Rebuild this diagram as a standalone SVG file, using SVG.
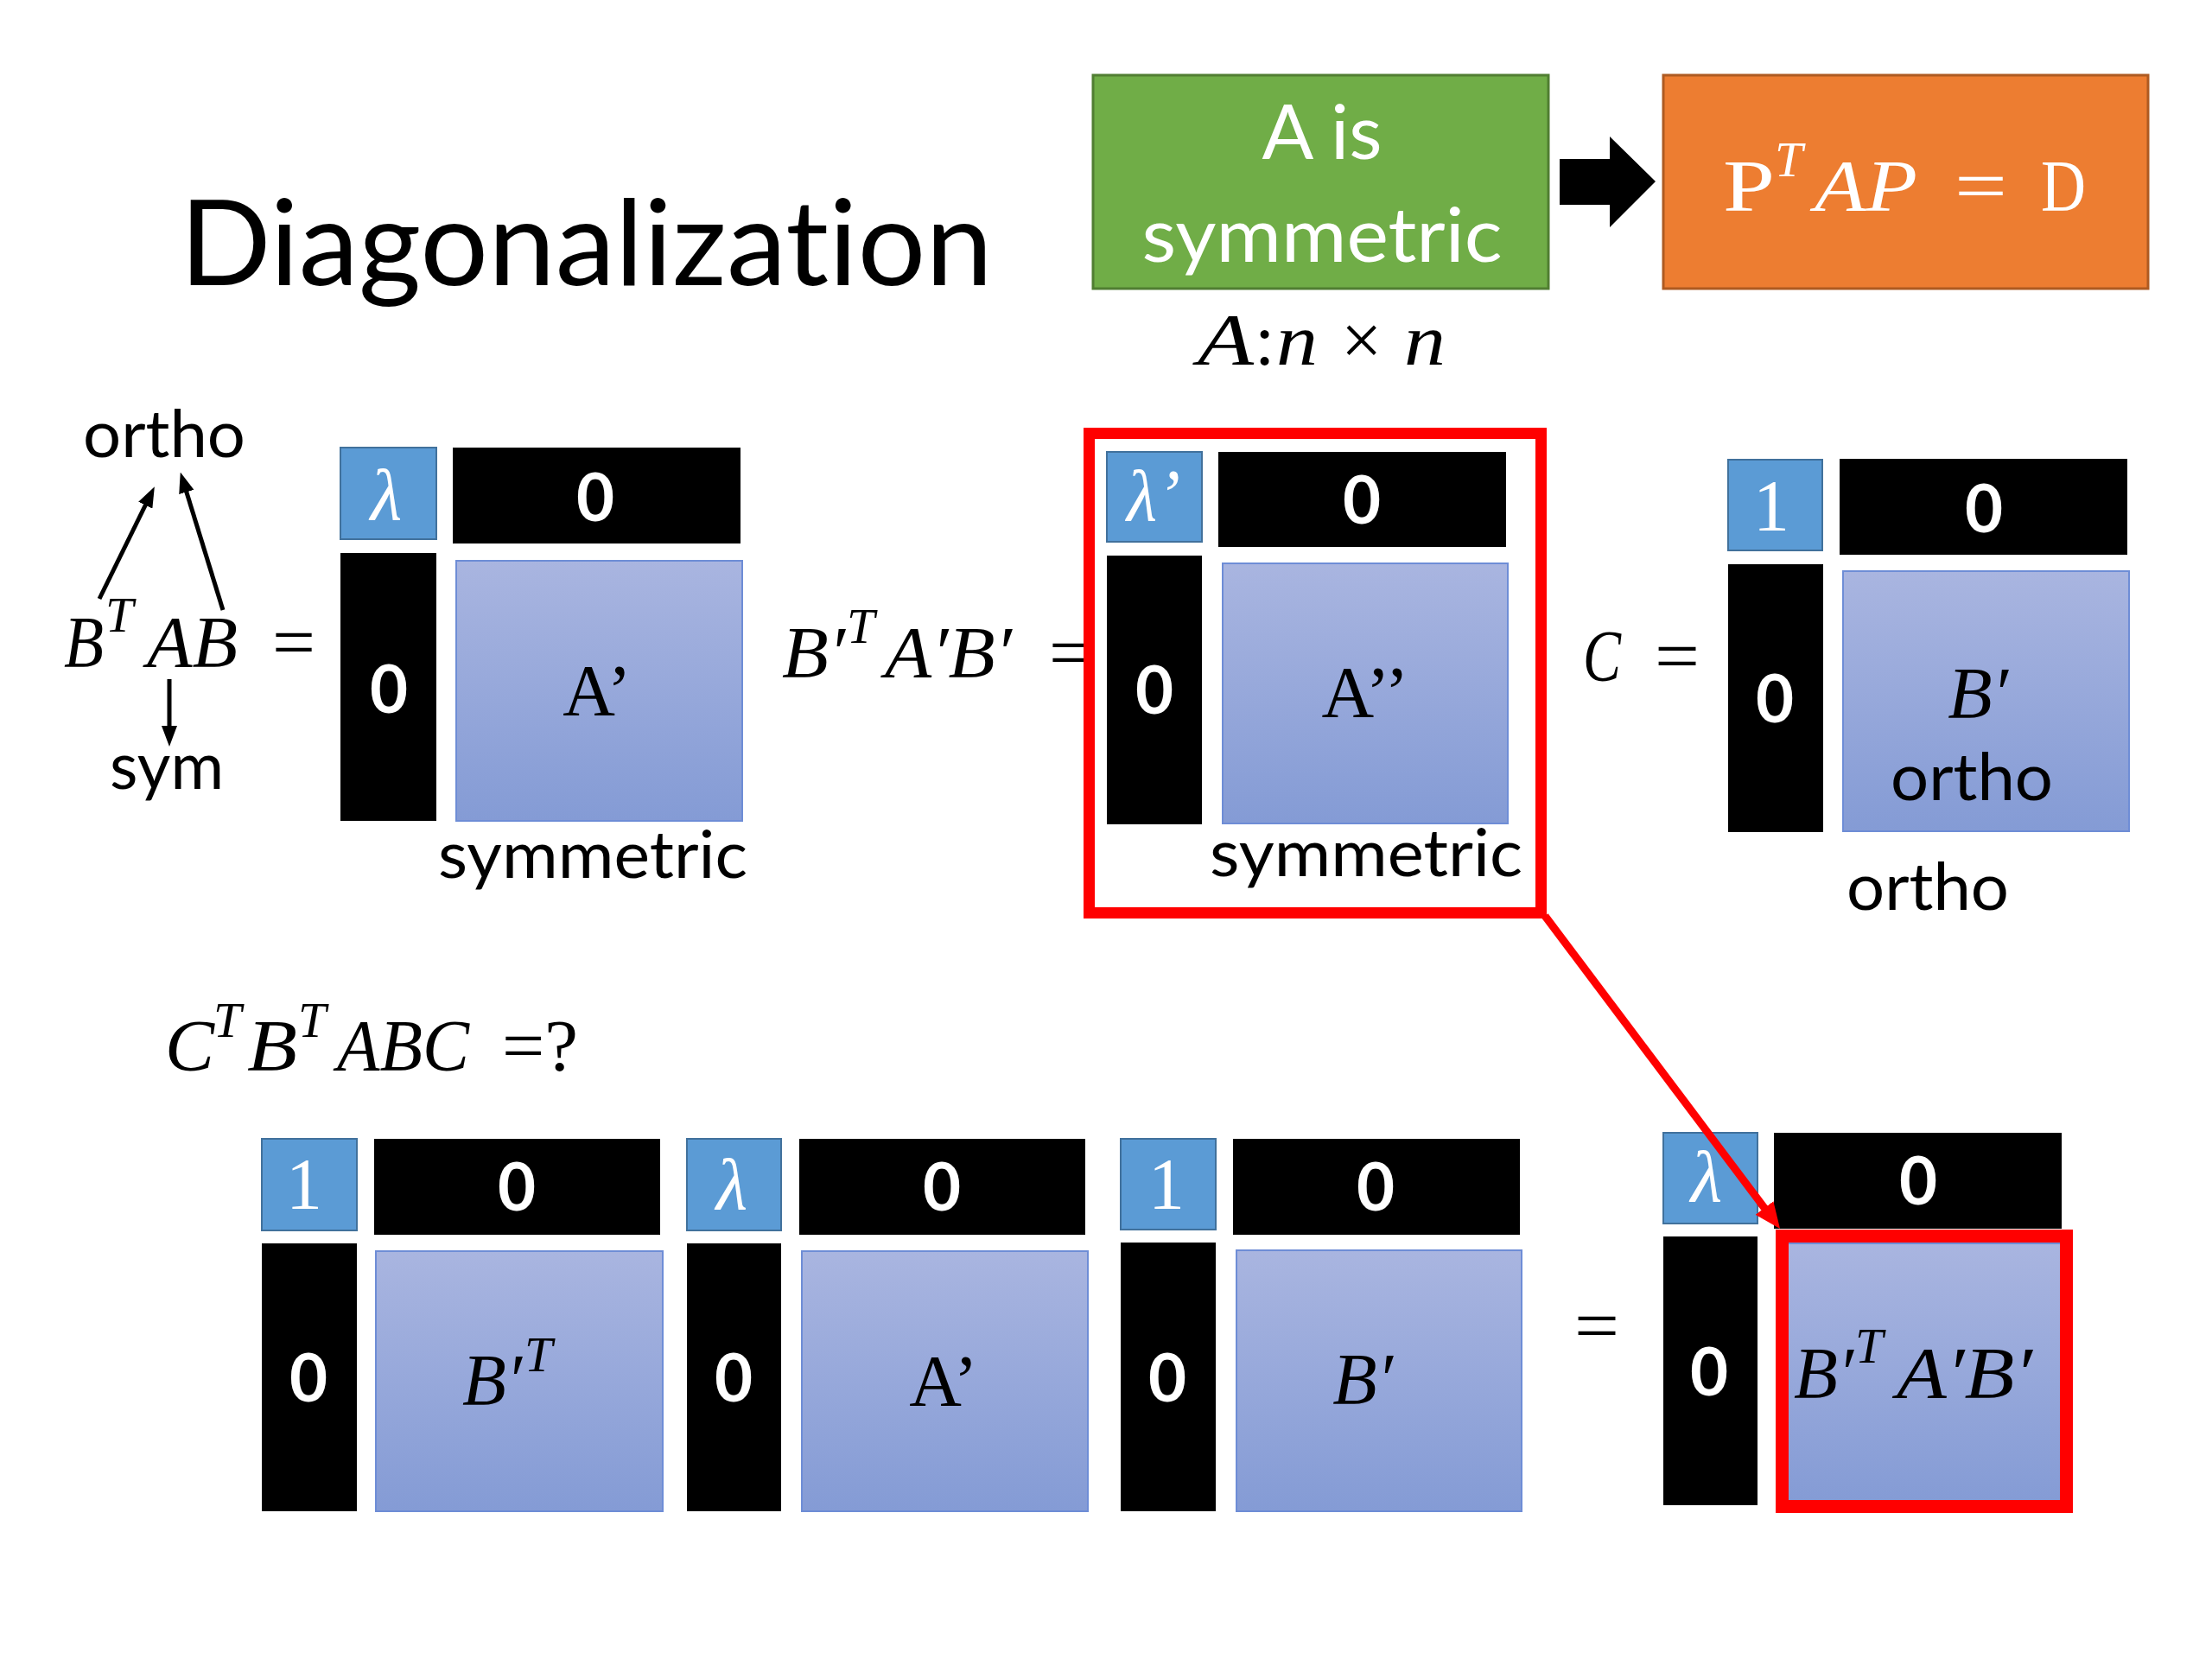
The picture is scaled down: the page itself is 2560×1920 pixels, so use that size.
<svg xmlns="http://www.w3.org/2000/svg" width="2560" height="1920" viewBox="0 0 2560 1920">
<style>
text{font-variant-ligatures:none}
.lbl{font-family:Lato,"Open Sans","Liberation Sans",sans-serif;font-size:76px;fill:#000;text-anchor:middle}
.title{font-family:Lato,"Open Sans","Liberation Sans",sans-serif;font-weight:400;font-size:137px;fill:#000}
.wt{font-family:Lato,"Open Sans","Liberation Sans",sans-serif;font-size:88px;fill:#fff;text-anchor:middle}
.zero{font-family:Lato,"Open Sans","Liberation Sans",sans-serif;font-weight:700;font-size:76px;fill:#fff;text-anchor:middle}
.m{font-family:"Liberation Serif",serif;font-style:italic;font-size:84px;fill:#000}
.up{font-family:"Liberation Serif",serif;font-size:84px;fill:#000}
.sup{font-family:"Liberation Serif",serif;font-style:italic;font-size:58px;fill:#000}
.wm{fill:#fff}
.c{text-anchor:middle}
.blk{fill:#000}
.sb{fill:#5B9BD5;stroke:#41719C;stroke-width:2}
.bsq{fill:url(#bg);stroke:#6E8DD6;stroke-width:2}
.red{fill:none;stroke:#FF0000}
.arr{stroke:#000;stroke-width:5;fill:none}
</style>
<defs>
<linearGradient id="bg" x1="0" y1="0" x2="0" y2="1">
<stop offset="0" stop-color="#A9B5E0"/>
<stop offset="1" stop-color="#849BD5"/>
</linearGradient>
<marker id="ah" viewBox="0 0 24 18" refX="13" refY="9" markerWidth="24" markerHeight="18" markerUnits="userSpaceOnUse" orient="auto">
<path d="M0,0 L24,9 L0,18 z" fill="#000"/>
</marker>
<marker id="rh" viewBox="0 0 30 26" refX="18" refY="13" markerWidth="30" markerHeight="26" markerUnits="userSpaceOnUse" orient="auto">
<path d="M0,0 L30,13 L0,26 z" fill="#FF0000"/>
</marker>
</defs>
<rect width="2560" height="1920" fill="#fff"/>

<g id="title">
<text class="title" x="208" y="330" textLength="941" lengthAdjust="spacingAndGlyphs">Diagonalization</text>
</g>

<g id="green-box">
<rect x="1265" y="87" width="527" height="247" fill="#70AD47" stroke="#507E32" stroke-width="3"/>
<text class="wt" x="1530" y="184" textLength="139" lengthAdjust="spacingAndGlyphs">A is</text>
<text class="wt" x="1530" y="303" textLength="417" lengthAdjust="spacingAndGlyphs">symmetric</text>
</g>

<g id="orange-box">
<rect x="1925" y="87" width="561" height="247" fill="#ED7D31" stroke="#AE5A21" stroke-width="3"/>
<text class="up wm" x="1994" y="244" textLength="60" lengthAdjust="spacingAndGlyphs">P</text>
<text class="sup wm" x="2054" y="204">T</text>
<text class="m wm" x="2100" y="244" textLength="119" lengthAdjust="spacingAndGlyphs">AP</text>
<text class="up wm" x="2262" y="244" textLength="61" lengthAdjust="spacingAndGlyphs">=</text>
<text class="up wm" x="2362" y="244" textLength="52" lengthAdjust="spacingAndGlyphs">D</text>
</g>

<g id="size-label">
<text class="m" x="1386" y="422" textLength="65" lengthAdjust="spacingAndGlyphs">A</text>
<text class="up" x="1452" y="422">:</text>
<text class="m" x="1477" y="422" textLength="48" lengthAdjust="spacingAndGlyphs">n</text>
<text class="up" x="1552" y="422" font-size="96">×</text>
<text class="m" x="1625" y="422" textLength="48" lengthAdjust="spacingAndGlyphs">n</text>
</g>

<g id="left-expr">
<text class="lbl" x="190" y="529" textLength="188" lengthAdjust="spacingAndGlyphs">ortho</text>
<text class="m" x="74" y="772" textLength="46" lengthAdjust="spacingAndGlyphs">B</text>
<text class="sup" x="122" y="731">T</text>
<text class="m" x="170" y="772" textLength="105" lengthAdjust="spacingAndGlyphs">AB</text>
<text class="up" x="315" y="772" textLength="50" lengthAdjust="spacingAndGlyphs">=</text>
<text class="lbl" x="193" y="913" textLength="132" lengthAdjust="spacingAndGlyphs">sym</text>
</g>

<g id="matrix1">
<rect class="sb" x="394" y="518" width="111" height="106"/>
<rect class="blk" x="524" y="518" width="333" height="111"/>
<rect class="blk" x="394" y="640" width="111" height="310"/>
<rect class="bsq" x="528" y="649" width="331" height="301"/>
<text class="m wm c" x="447" y="601">λ</text>
<text class="zero" x="689" y="603">0</text>
<text class="zero" x="450" y="825">0</text>
<text class="up c" x="691" y="828">A’</text>
<text class="lbl" x="686" y="1016" textLength="358" lengthAdjust="spacingAndGlyphs">symmetric</text>
</g>

<g id="mid-expr">
<text class="m" x="905" y="784" textLength="73" lengthAdjust="spacingAndGlyphs">B′</text>
<text class="sup" x="980" y="744">T</text>
<text class="m" x="1024" y="784" textLength="147" lengthAdjust="spacingAndGlyphs">A′B′</text>
<text class="up" x="1214" y="784" textLength="50" lengthAdjust="spacingAndGlyphs">=</text>
</g>

<g id="matrix2">
<rect class="sb" x="1281" y="523" width="110" height="104"/>
<rect class="blk" x="1410" y="523" width="333" height="110"/>
<rect class="blk" x="1281" y="643" width="110" height="311"/>
<rect class="bsq" x="1415" y="652" width="330" height="301"/>
<text class="m wm" x="1304" y="602" textLength="62" lengthAdjust="spacingAndGlyphs">λ’</text>
<text class="zero" x="1576" y="606">0</text>
<text class="zero" x="1336" y="826">0</text>
<text class="up c" x="1580" y="830">A’’</text>
<text class="lbl" x="1581" y="1014" textLength="362" lengthAdjust="spacingAndGlyphs">symmetric</text>
<rect class="red" x="1260.5" y="501.5" width="523" height="555" stroke-width="13"/>
</g>

<g id="c-expr">
<text class="m" x="1832" y="788" textLength="44" lengthAdjust="spacingAndGlyphs">C</text>
<text class="up" x="1915" y="788" textLength="52" lengthAdjust="spacingAndGlyphs">=</text>
</g>

<g id="matrix3">
<rect class="sb" x="2000" y="532" width="109" height="105"/>
<rect class="blk" x="2129" y="531" width="333" height="111"/>
<rect class="blk" x="2000" y="653" width="110" height="310"/>
<rect class="bsq" x="2133" y="661" width="331" height="301"/>
<text class="up wm c" x="2050" y="614">1</text>
<text class="zero" x="2296" y="616">0</text>
<text class="zero" x="2054" y="836">0</text>
<text class="m c" x="2289" y="831">B′</text>
<text class="lbl" x="2282" y="926" textLength="188" lengthAdjust="spacingAndGlyphs">ortho</text>
<text class="lbl" x="2231" y="1053" textLength="188" lengthAdjust="spacingAndGlyphs">ortho</text>
</g>

<g id="question">
<text class="m" x="191" y="1239" textLength="57" lengthAdjust="spacingAndGlyphs">C</text>
<text class="sup" x="247" y="1200">T</text>
<text class="m" x="286" y="1239" textLength="58" lengthAdjust="spacingAndGlyphs">B</text>
<text class="sup" x="345" y="1200">T</text>
<text class="m" x="390" y="1239" textLength="153" lengthAdjust="spacingAndGlyphs">ABC</text>
<text class="up" x="581" y="1239" textLength="88" lengthAdjust="spacingAndGlyphs">=?</text>
</g>

<g id="bottom-m1">
<rect class="sb" x="303" y="1318" width="110" height="106"/>
<rect class="blk" x="433" y="1318" width="331" height="111"/>
<rect class="blk" x="303" y="1439" width="110" height="310"/>
<rect class="bsq" x="435" y="1448" width="332" height="301"/>
<text class="up wm c" x="352" y="1399">1</text>
<text class="zero" x="598" y="1401">0</text>
<text class="zero" x="357" y="1622">0</text>
<text class="m" x="535" y="1626" textLength="69" lengthAdjust="spacingAndGlyphs">B′</text>
<text class="sup" x="607" y="1587">T</text>
</g>

<g id="bottom-m2">
<rect class="sb" x="795" y="1318" width="109" height="106"/>
<rect class="blk" x="925" y="1318" width="331" height="111"/>
<rect class="blk" x="795" y="1439" width="109" height="310"/>
<rect class="bsq" x="928" y="1448" width="331" height="301"/>
<text class="m wm c" x="847" y="1399">λ</text>
<text class="zero" x="1090" y="1401">0</text>
<text class="zero" x="849" y="1622">0</text>
<text class="up c" x="1092" y="1627">A’</text>
</g>

<g id="bottom-m3">
<rect class="sb" x="1297" y="1318" width="110" height="105"/>
<rect class="blk" x="1427" y="1318" width="332" height="111"/>
<rect class="blk" x="1297" y="1438" width="110" height="311"/>
<rect class="bsq" x="1431" y="1447" width="330" height="302"/>
<text class="up wm c" x="1350" y="1399">1</text>
<text class="zero" x="1592" y="1401">0</text>
<text class="zero" x="1351" y="1622">0</text>
<text class="m c" x="1577" y="1625">B′</text>
</g>

<g id="bottom-eq">
<text class="up" x="1822" y="1563" textLength="52" lengthAdjust="spacingAndGlyphs">=</text>
</g>

<g id="bottom-m4">
<rect class="sb" x="1925" y="1311" width="109" height="105"/>
<rect class="blk" x="2053" y="1311" width="333" height="111"/>
<rect class="blk" x="1925" y="1431" width="109" height="311"/>
<rect class="bsq" x="2058" y="1439" width="332" height="302"/>
<text class="m wm c" x="1975" y="1390">λ</text>
<text class="zero" x="2220" y="1394">0</text>
<text class="zero" x="1978" y="1615">0</text>
<text class="m" x="2076" y="1618" textLength="69" lengthAdjust="spacingAndGlyphs">B′</text>
<text class="sup" x="2147" y="1577">T</text>
<text class="m" x="2195" y="1618" textLength="157" lengthAdjust="spacingAndGlyphs">A′B′</text>
<rect class="red" x="2062.5" y="1430.5" width="329" height="313" stroke-width="15"/>
</g>

<g id="connectors">
<polygon points="1805,184 1863,184 1863,158 1916,210 1863,263 1863,237 1805,237" fill="#000"/>
<line class="arr" x1="115" y1="693" x2="174" y2="573" marker-end="url(#ah)"/>
<line class="arr" x1="258" y1="706" x2="212" y2="557" marker-end="url(#ah)"/>
<line class="arr" x1="196" y1="786" x2="196" y2="853" marker-end="url(#ah)"/>
<line x1="1788" y1="1060" x2="2052.8" y2="1412.4" stroke="#FF0000" stroke-width="9" marker-end="url(#rh)"/>
</g>
</svg>
